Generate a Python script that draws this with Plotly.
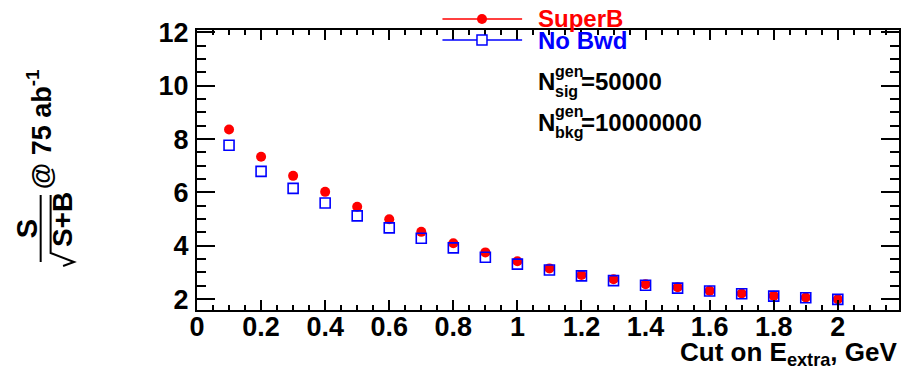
import plotly.graph_objects as go

# ---- data ----
cut_values = [0.1, 0.2, 0.3, 0.4, 0.5, 0.6, 0.7, 0.8, 0.9, 1.0,
              1.1, 1.2, 1.3, 1.4, 1.5, 1.6, 1.7, 1.8, 1.9, 2.0]
superb_signif = [8.36, 7.34, 6.62, 6.02, 5.46, 4.99, 4.52, 4.09, 3.75, 3.42,
                 3.15, 2.90, 2.74, 2.56, 2.44, 2.31, 2.21, 2.12, 2.06, 1.99]
nobwd_signif = [7.77, 6.79, 6.15, 5.60, 5.12, 4.67, 4.28, 3.92, 3.57, 3.31,
                3.09, 2.87, 2.69, 2.52, 2.41, 2.30, 2.20, 2.11, 2.05, 1.99]
series_names = ["SuperB", "No Bwd"]
n_sig_text = "=50000"
n_bkg_text = "=10000000"

FONT = "Liberation Sans, Arial, Helvetica, sans-serif"
W, H = 903, 373
L, R, T, B = 196.5, 901.5, 30, 310


def px(x):
    return (x - L) / (R - L)


def py(y):
    return (B - y) / (B - T)


fig = go.Figure()
fig.add_trace(go.Scatter(
    x=cut_values, y=superb_signif, mode="markers", name=series_names[0],
    marker=dict(symbol="circle", size=10, color="#ff0000", line=dict(width=0)),
    showlegend=False))
fig.add_trace(go.Scatter(
    x=cut_values, y=nobwd_signif, mode="markers", name=series_names[1],
    marker=dict(symbol="square-open", size=10, color="#0000ff", line=dict(width=1.6)),
    showlegend=False))

axis_common = dict(showgrid=False, zeroline=False, showline=True, linecolor="black",
                   linewidth=2, mirror="ticks", ticks="inside", tickcolor="black",
                   tickfont=dict(family=FONT, size=27, color="black", weight="bold"))

fig.update_xaxes(range=[0, 2.191], tick0=0, dtick=0.2, ticklen=10, tickwidth=1.5,
                 minor=dict(ticks="inside", dtick=0.05, tick0=0, ticklen=5,
                            tickwidth=1.5, tickcolor="black"),
                 tickformat="~g", ticklabelstandoff=-8, **axis_common)
fig.update_yaxes(range=[1.59, 12.09], tick0=0, dtick=2, ticklen=18, tickwidth=1.5,
                 minor=dict(ticks="inside", dtick=0.5, tick0=0, ticklen=9,
                            tickwidth=1.5, tickcolor="black"),
                 ticklabelstandoff=1, **axis_common)

ann = []
shapes = []


def text(x, y, t, size, color="black", xanchor="left", angle=0):
    ann.append(dict(x=px(x), y=py(y), xref="paper", yref="paper", text=t,
                    showarrow=False, xanchor=xanchor, yanchor="middle",
                    textangle=angle,
                    font=dict(family=FONT, size=size, color=color, weight="bold")))


# legend
shapes.append(dict(type="line", xref="paper", yref="paper", x0=px(443), x1=px(523),
                   y0=py(19), y1=py(19), line=dict(color="#ff0000", width=1.5)))
shapes.append(dict(type="line", xref="paper", yref="paper", x0=px(443), x1=px(523),
                   y0=py(40), y1=py(40), line=dict(color="#0000ff", width=1.5)))
shapes.append(dict(type="circle", xref="paper", yref="paper", xsizemode="pixel",
                   ysizemode="pixel", xanchor=px(482.7), yanchor=py(19),
                   x0=-5, x1=5, y0=-5, y1=5, fillcolor="#ff0000",
                   line=dict(color="#ff0000", width=0)))
shapes.append(dict(type="rect", xref="paper", yref="paper", xsizemode="pixel",
                   ysizemode="pixel", xanchor=px(482.7), yanchor=py(40),
                   x0=-5, x1=5, y0=-5, y1=5, fillcolor="white",
                   line=dict(color="#0000ff", width=1.5)))
text(537, 19, series_names[0], 24, "#ff0000")
text(537, 41, series_names[1], 24, "#0000ff")

# N^gen annotations
text(537, 81, "N", 24)
text(554, 71, "gen", 16)
text(554, 91, "sig", 16)
text(580, 81, n_sig_text, 24)
text(537, 122, "N", 24)
text(554, 112, "gen", 16)
text(554, 132, "bkg", 16)
text(580, 122, n_bkg_text, 24)

# x-axis title
text(902, 354, "Cut on E<sub>extra</sub>, GeV", 26, xanchor="right")

# y-axis title (fraction S / sqrt(S+B) @ 75 ab^-1)
text(26, 229, "S", 29, xanchor="center", angle=-90)
text(61, 220, "S+B", 28, xanchor="center", angle=-90)
text(38, 129, "@ 75 ab<sup>-1</sup>", 27, xanchor="center", angle=-90)
shapes.append(dict(type="line", xref="paper", yref="paper", x0=px(39.5), x1=px(39.5),
                   y0=py(195), y1=py(262), line=dict(color="black", width=2)))
path = "M {},{} L {},{} L {},{} L {},{}".format(
    px(62), py(266), px(73), py(262), px(49.5), py(253), px(49.5), py(195))
shapes.append(dict(type="path", xref="paper", yref="paper", path=path,
                   line=dict(color="black", width=2)))

fig.update_layout(width=W, height=H, margin=dict(l=L, r=W - R, t=T, b=H - B),
                  plot_bgcolor="white", paper_bgcolor="white",
                  annotations=ann, shapes=shapes, showlegend=False)

fig.write_html("out.html")
